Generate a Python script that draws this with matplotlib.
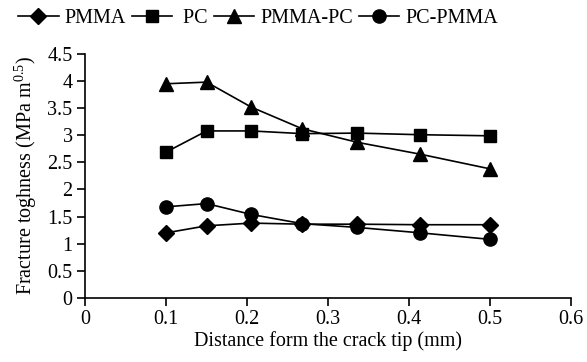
import matplotlib
matplotlib.use("Agg")
import matplotlib.pyplot as plt

plt.rcParams['font.family'] = ['Liberation Serif', 'DejaVu Serif']
plt.rcParams['mathtext.fontset'] = 'custom'
plt.rcParams['mathtext.rm'] = 'Liberation Serif'

distance = [0.1, 0.15, 0.205, 0.268, 0.336, 0.414, 0.5]
pmma = [1.2, 1.33, 1.38, 1.36, 1.36, 1.35, 1.35]
pc = [2.69, 3.08, 3.08, 3.03, 3.04, 3.01, 2.99]
pmma_pc = [3.95, 3.98, 3.52, 3.12, 2.87, 2.65, 2.38]
pc_pmma = [1.68, 1.74, 1.54, 1.37, 1.30, 1.20, 1.08]

series = [("PMMA", pmma, "D", 8), (" PC", pc, "s", 8.5),
          ("PMMA-PC", pmma_pc, "^", 9.5), ("PC-PMMA", pc_pmma, "o", 9.5)]

fs = 14.5
fig = plt.figure(figsize=(5.87, 3.62), dpi=100)
ax = fig.add_axes([0.145, 0.177, 0.828, 0.674])
for name, vals, m, ms in series:
    ax.plot(distance, vals, color='black', marker=m, markersize=ms, lw=1.2, label=name)

ax.set_xlim(0, 0.6)
ax.set_ylim(0, 4.5)
ax.set_xticks([0, 0.1, 0.2, 0.3, 0.4, 0.5, 0.6])
ax.set_xticklabels(['0', '0.1', '0.2', '0.3', '0.4', '0.5', '0.6'])
ax.set_yticks([0, 0.5, 1, 1.5, 2, 2.5, 3, 3.5, 4, 4.5])
ax.set_yticklabels(['0', '0.5', '1', '1.5', '2', '2.5', '3', '3.5', '4', '4.5'])
for s in ['top', 'right']:
    ax.spines[s].set_visible(False)
for s in ['left', 'bottom']:
    ax.spines[s].set_linewidth(1.2)
ax.tick_params(direction='out', length=6, width=1.2, labelsize=fs, colors='black', pad=3)
ax.set_xlabel('Distance form the crack tip (mm)', fontsize=fs, labelpad=1)
ax.set_ylabel('Fracture toghness (MPa m$^{0.5}$)', fontsize=fs, labelpad=6)

fig.legend(loc='upper center', bbox_to_anchor=(0.44, 1.025), ncol=4, frameon=False,
           fontsize=fs, handlelength=2.0, columnspacing=0.3, handletextpad=0.3)

fig.savefig('out.png', dpi=100)
